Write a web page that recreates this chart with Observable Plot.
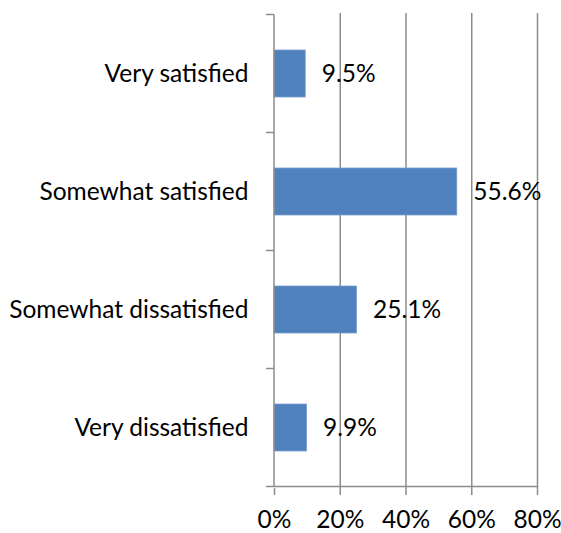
<!DOCTYPE html>
<html>
<head>
<meta charset="utf-8">
<script src="https://cdn.jsdelivr.net/npm/d3@7"></script>
<script src="https://cdn.jsdelivr.net/npm/@observablehq/plot@0.6"></script>
<style>
  html, body { margin: 0; padding: 0; background: #fff; }
  #chart svg { display: block; }
</style>
</head>
<body>
<div id="chart"></div>
<script>
// Survey answers and the share of respondents (%) giving each one
const categories = ["Very satisfied", "Somewhat satisfied", "Somewhat dissatisfied", "Very dissatisfied"];
const shares = [9.5, 55.6, 25.1, 9.9];
const xTicks = [0, 20, 40, 60, 80];

const rows = categories.map((category, i) => ({category, share: shares[i]}));

const lineColor = "#8c8c8c";
const barColor = "#4f81bd";
const fontFamily = "Lato, 'Open Sans', sans-serif";

// Category boundary ticks on the left axis plus the bottom baseline
function categoryFrame(index, scales) {
  const {x, y} = scales;
  const step = y.step(), bw = y.bandwidth();
  const off = (step - bw) / 2;
  const ys = categories.map(c => y(c) - off);
  ys.push(y(categories[categories.length - 1]) + bw + off);
  const x0 = x(xTicks[0]);
  const x1 = x(xTicks[xTicks.length - 1]);
  const g = d3.create("svg:g")
    .attr("stroke", lineColor)
    .attr("stroke-width", 1.5)
    .attr("fill", "none");
  for (const yy of ys) {
    g.append("line").attr("x1", x0 - 8).attr("x2", x0).attr("y1", yy).attr("y2", yy);
  }
  g.append("line").attr("x1", x0).attr("x2", x1)
    .attr("y1", ys[ys.length - 1]).attr("y2", ys[ys.length - 1]);
  g.append("line").attr("x1", x0).attr("x2", x0)
    .attr("y1", ys[0]).attr("y2", ys[ys.length - 1]);
  return g.node();
}

const chart = Plot.plot({
  width: 561,
  height: 533,
  marginLeft: 274,
  marginRight: 24,
  marginTop: 13,
  marginBottom: 45,
  style: {fontFamily, fontSize: "24.5px", color: "#000", background: "#fff"},
  x: {domain: [xTicks[0], xTicks[xTicks.length - 1]]},
  y: {domain: categories, paddingInner: 0.6, paddingOuter: 0.3},
  marks: [
    Plot.ruleX(xTicks.slice(1), {stroke: lineColor, strokeWidth: 1.5, strokeOpacity: 1}),
    Plot.barX(rows, {
      x: "share",
      y: "category",
      fill: barColor,
      stroke: "#7a9fd0",
      strokeWidth: 0.8
    }),
    Plot.text(rows, {
      x: "share",
      y: "category",
      text: d => d.share.toFixed(1) + "%",
      textAnchor: "start",
      dx: 16,
      fill: "#000"
    }),
    categoryFrame,
    Plot.axisX(xTicks, {
      tickSize: 7,
      tickPadding: 15,
      stroke: lineColor,
      strokeWidth: 1.5,
      tickFormat: d => d + "%",
      label: null
    }),
    Plot.axisY({
      tickSize: 0,
      tickPadding: 26,
      label: null
    })
  ]
});

document.getElementById("chart").appendChild(chart);
</script>
</body>
</html>
